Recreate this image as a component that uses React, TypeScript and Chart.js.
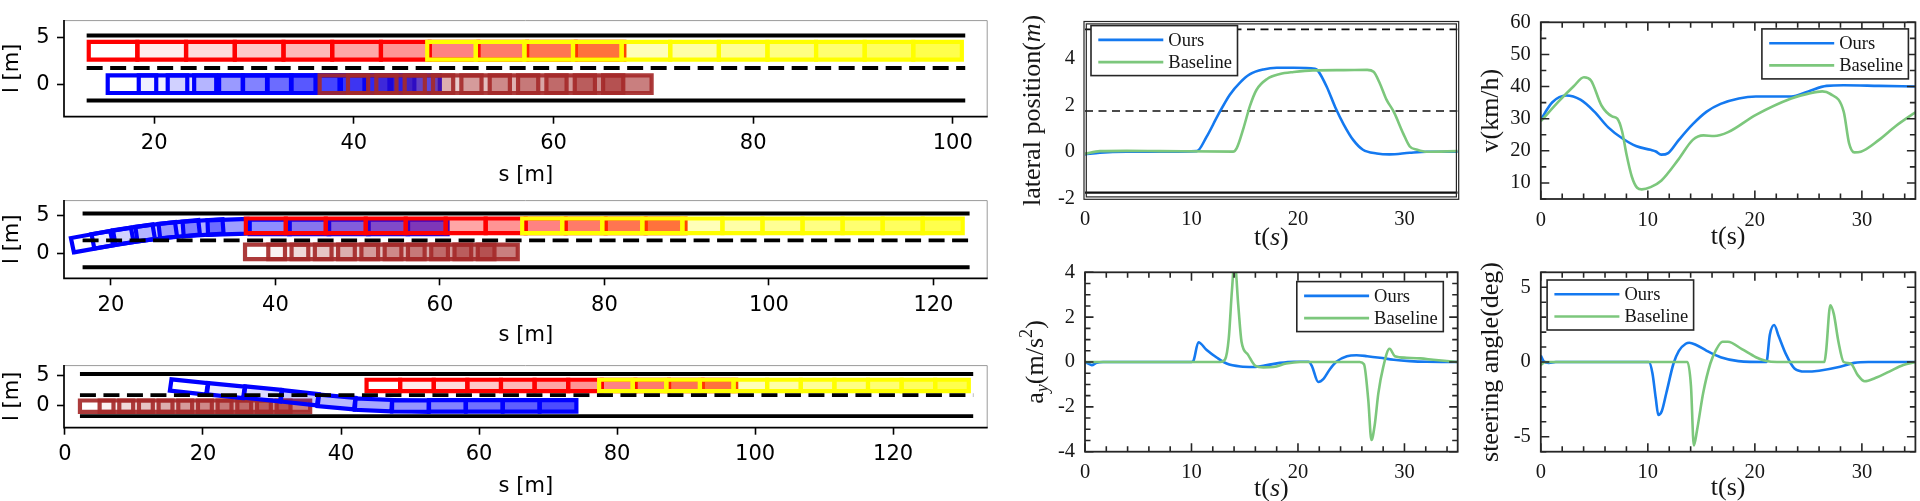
import React, { useEffect, useRef } from "react";
import { Chart, registerables } from "chart.js";
Chart.register(...registerables);

/* ====================== RIGHT: time series ====================== */
const T_LAT_OURS = [0, 1.4, 3.9, 10.5, 11.4, 12.5, 13.6, 14.6, 15.5, 16.75, 18.0, 19.6, 21.6, 21.9, 22.7, 23.5, 24.3, 25.2, 26.1, 27.4, 28.6, 30.5, 32.1, 35];
const LAT_OURS = [-0.11, -0.04, 0, 0.03, 0.63, 1.58, 2.45, 2.99, 3.33, 3.53, 3.6, 3.6, 3.56, 3.46, 2.79, 1.91, 1.17, 0.5, 0.09, -0.07, -0.11, -0.04, 0, 0];
const T_LAT_BASE = [0, 1.4, 3.9, 7.0, 13.9, 14.25, 14.9, 15.5, 16.1, 17.1, 18.3, 19.6, 21.4, 24.3, 26.5, 27.1, 27.7, 28.3, 29.0, 29.9, 30.5, 31.2, 32.1, 35];
const LAT_BASE = [-0.08, 0.03, 0.04, 0.03, 0.01, 0.16, 1.04, 1.98, 2.65, 3.12, 3.33, 3.42, 3.49, 3.5, 3.51, 3.43, 2.92, 2.25, 1.71, 0.77, 0.23, 0.09, 0, 0.03];
const LAT_MARKS = [5.25, 1.75, -1.75];
const LAT_MARK_DASHED = [true, true, false];

const T_V_OURS = [0, 1.08, 2.39, 3.7, 5.0, 6.3, 7.6, 8.95, 10.26, 10.75, 11.25, 11.9, 12.9, 14.2, 15.5, 16.8, 18.5, 20.1, 23.4, 25.0, 26.7, 28.3, 31.6, 35];
const V_OURS = [29.7, 35.1, 37.2, 35.9, 32.2, 27.3, 23.9, 21.4, 20.3, 19.8, 18.8, 19.3, 23.4, 28.3, 32.2, 34.6, 36.3, 36.9, 36.9, 38.5, 40.2, 40.4, 40.2, 40];
const T_V_BASE = [0, 1.74, 3.05, 4.03, 4.69, 5.67, 6.66, 7.15, 7.6, 8.0, 8.5, 9.0, 9.44, 10.26, 11.25, 12.9, 14.2, 15.2, 16.2, 17.5, 20.1, 23.4, 25.0, 26.3, 27.0, 28.3, 28.8, 29.3, 29.9, 31.6, 33.2, 35];
const V_BASE = [29.2, 35.6, 40, 42.9, 41.9, 34.1, 30.7, 30, 26, 19, 12, 8.5, 8, 8.7, 10.7, 17.5, 23.4, 24.8, 24.6, 25.8, 31.2, 36.3, 37.8, 38.5, 37.8, 32.2, 22.4, 19.5, 19.7, 23.4, 27.8, 32];

const T_AY_OURS = [0, 0.31, 0.63, 1.1, 1.7, 10.0, 10.2, 10.65, 11.4, 12.4, 13.3, 14.6, 15.8, 17.1, 18.3, 19.6, 21.0, 21.3, 21.9, 22.4, 23.0, 23.6, 24.6, 25.5, 26.5, 27.7, 29.0, 30.5, 32.1, 35];
const AY_OURS = [0, -0.07, -0.14, -0.03, 0, 0, 0.07, 0.88, 0.55, 0.19, -0.07, -0.2, -0.22, -0.14, -0.04, 0.01, 0.01, -0.17, -0.89, -0.75, -0.32, 0.01, 0.26, 0.3, 0.26, 0.19, 0.1, 0.04, 0.01, 0];
const T_AY_BASE = [0, 12.7, 13.15, 13.5, 13.8, 14.05, 14.4, 14.7, 15.3, 16.0, 16.75, 17.7, 18.9, 20.2, 25.8, 26.2, 26.6, 26.9, 27.2, 27.55, 28.0, 28.6, 29.1, 30.2, 31.5, 32.7, 35];
const AY_BASE = [0, 0, 0.11, 1.05, 3.2, 4.5, 2.49, 0.9, 0.33, -0.17, -0.24, -0.22, -0.07, 0, 0, -0.1, -1.68, -3.48, -2.83, -1.39, -0.24, 0.59, 0.26, 0.19, 0.16, 0.1, 0];

const T_ST_OURS = [0, 0.26, 0.75, 1.4, 10.1, 10.43, 10.75, 10.98, 11.3, 11.74, 12.4, 12.9, 13.54, 13.87, 14.52, 15.5, 16.8, 18.46, 21.08, 21.4, 21.8, 22.23, 22.89, 23.7, 24.7, 26.0, 27.97, 29.28, 30.6, 35];
const ST_OURS = [0.43, 0.06, -0.06, 0, 0, -0.75, -2.47, -3.54, -3.3, -2.04, -0.1, 0.75, 1.22, 1.29, 1.14, 0.75, 0.32, 0.06, 0, 1.82, 2.47, 1.72, 0.54, -0.43, -0.64, -0.58, -0.32, -0.06, 0, 0];
const T_ST_BASE = [0, 0.43, 13.7, 14.03, 14.3, 14.59, 15.18, 15.84, 16.33, 16.98, 17.48, 18.79, 20.1, 21.08, 22.07, 26.5, 26.66, 27.05, 27.38, 27.8, 28.3, 28.95, 29.6, 30.26, 31.25, 32.56, 33.87, 35];
const ST_BASE = [-0.2, 0, 0, -1.6, -5.58, -4.6, -2.04, -0.1, 0.75, 1.35, 1.35, 0.86, 0.32, 0.06, 0, 0, 0.75, 3.8, 3.2, 1.39, 0, -0.1, -0.86, -1.29, -1.07, -0.64, -0.2, 0];

const SERIES_LABELS = ["Ours", "Baseline"];

/* ====================== LEFT: s-l snapshots ====================== */
const LANE_L = [-1.75, 1.75, 5.25];
const LANE_DASHED = [false, true, false];

const P1_S_RANGE = [10.96, 103.5];
const P1_L_RANGE = [-3.5, 6.9];
const P1_LANE_S = [13.23, 101.25];
const P1_BLUE_S = [17.77, 20.88, 23.78, 26.43, 28.93, 31.33, 33.73, 36.13, 38.63, 41.13, 43.63, 46.18];
const P1_BROWN_S = [39.0, 41.84, 44.68, 47.52, 50.36, 53.2, 56.04, 58.88, 61.72, 64.56, 67.4];
const P1_RED_S = [15.87, 20.75, 25.63, 30.51, 35.39, 40.27, 45.15, 50.03, 54.91, 59.79, 64.67];
const P1_YELLOW_S = [49.78, 54.65, 59.52, 64.39, 69.26, 74.13, 79.0, 83.87, 88.74, 93.61, 98.48];

const P2_S_RANGE = [14.29, 126.6];
const P2_L_RANGE = [-3.2, 7.0];
const P2_LANE_S = [16.55, 124.4];
const P2_BLUE_S = [17.7, 20.2, 22.8, 25.5, 28.3, 31.2, 34.2, 39.3, 44.1, 48.9, 53.7, 58.5];
const P2_BLUE_L = [1.58, 2.05, 2.5, 2.88, 3.2, 3.4, 3.5, 3.5, 3.5, 3.5, 3.5, 3.5];
const P2_BLUE_H = [11, 10, 9, 7.5, 6, 4, 2, 0, 0, 0, 0, 0];
const P2_BROWN_S = [38.73, 41.56, 44.39, 47.22, 50.05, 52.88, 55.71, 58.54, 61.37, 64.2, 67.03];
const P2_RED_S = [38.83, 43.69, 48.55, 53.41, 58.27, 63.13, 67.99, 72.85, 77.71, 82.57, 87.43];
const P2_YELLOW_S = [72.43, 77.3, 82.17, 87.04, 91.91, 96.78, 101.65, 106.52, 111.39, 116.26, 121.13];

const P3_S_RANGE = [-0.14, 133.7];
const P3_L_RANGE = [-3.67, 6.73];
const P3_LANE_S = [2.17, 131.6];
const P3_BROWN_S = [4.6, 7.45, 10.3, 13.15, 16.0, 18.85, 21.7, 24.55, 27.4, 30.25, 33.1];
const P3_BLUE_S = [17.95, 23.3, 28.65, 34.0, 39.35, 44.7, 50.05, 55.4, 60.75, 66.1, 71.45];
const P3_BLUE_L = [3.1, 2.5, 1.95, 1.3, 0.6, 0.12, -0.05, -0.05, -0.05, -0.05, -0.05];
const P3_BLUE_H = [-7, -6.5, -6.5, -7, -6, -3, -0.5, 0, 0, 0, 0];
const P3_RED_S = [46.13, 51.0, 55.87, 60.74, 65.61, 70.48, 75.35, 80.22, 85.09, 89.96, 94.83];
const P3_YELLOW_S = [79.83, 84.7, 89.57, 94.44, 99.31, 104.18, 109.05, 113.92, 118.79, 123.66, 128.53];

/* ====================== styling ====================== */
const OURS_C = "#1479f0";
const BASE_C = "#7cc77c";
const TXT = "#161616";
const AX = "#262626";
const FONT_SERIF = '"Liberation Serif", "Times New Roman", serif';
const FONT_SANS = '"DejaVu Sans", "Liberation Sans", sans-serif';
const C_RED = "255,0,0";
const C_YEL = "255,255,0";
const C_BLUE = "0,0,255";
const C_BROWN = "165,42,42";
const VEH_LEN = 4.86;
const VEH_WID = 1.9;
const EDGE_W = 4.2;

/* ====================== helpers ====================== */
const pts = (t: number[], v: number[]) => t.map((x, i) => ({ x, y: v[i] }));

function rectCorners(s: number, l: number, hdeg: number, L: number, W: number) {
  const th = (hdeg * Math.PI) / 180;
  const c = Math.cos(th), sn = Math.sin(th);
  const hx = L / 2, hy = W / 2;
  const base = [[-hx, -hy], [hx, -hy], [hx, hy], [-hx, hy], [-hx, -hy], [hx, -hy]];
  return base.map(([a, b]) => ({ x: s + a * c - b * sn, y: l + a * sn + b * c }));
}

type Veh = { color: string; s: number[]; l: number | number[]; h?: number[]; len: number; faceMax: number; edgeAlpha: number };

function vehicleSets(v: Veh) {
  const n = v.s.length;
  return v.s.map((s, i) => {
    const l = Array.isArray(v.l) ? v.l[i] : v.l;
    const h = v.h ? v.h[i] : 0;
    const a = (v.faceMax * i) / (n - 1);
    return {
      data: rectCorners(s, l, h, v.len, VEH_WID),
      showLine: true,
      fill: "shape",
      backgroundColor: `rgba(${v.color},${a.toFixed(3)})`,
      borderColor: `rgba(${v.color},${v.edgeAlpha})`,
      borderWidth: EDGE_W,
      borderDash: [3000, 0],
      borderJoinStyle: "miter",
      pointRadius: 0,
      pointHoverRadius: 0,
      pointHitRadius: 0,
      tension: 0,
    };
  });
}

const leftFrame = {
  id: "leftFrame",
  afterDatasetsDraw(chart: any) {
    const { ctx, chartArea: a } = chart;
    ctx.save();
    ctx.strokeStyle = "#9a9a9a";
    ctx.lineWidth = 1;
    ctx.beginPath();
    ctx.moveTo(a.left, a.top + 0.5);
    ctx.lineTo(a.right - 0.5, a.top + 0.5);
    ctx.lineTo(a.right - 0.5, a.bottom);
    ctx.stroke();
    ctx.strokeStyle = "#000";
    ctx.lineWidth = 1.7;
    ctx.beginPath();
    ctx.moveTo(a.left, a.top);
    ctx.lineTo(a.left, a.bottom);
    ctx.lineTo(a.right, a.bottom);
    ctx.stroke();
    ctx.restore();
  },
};

type LeftSpec = {
  sRange: number[]; lRange: number[]; laneS: number[]; vehicles: Veh[];
  padTop: number; xAxisH: number; titlePadBottom: number;
};

function makeLeft(canvas: HTMLCanvasElement, p: LeftSpec) {
  const painter: any[] = [];
  p.vehicles.forEach((v) => painter.push(...vehicleSets(v)));
  LANE_L.forEach((l, k) =>
    painter.push({
      data: [{ x: p.laneS[0], y: l }, { x: p.laneS[1], y: l }],
      showLine: true,
      fill: false,
      borderColor: "#000",
      borderWidth: 3.9,
      borderDash: LANE_DASHED[k] ? [16, 7.5] : [],
      pointRadius: 0,
      pointHitRadius: 0,
    })
  );
  const datasets = painter.reverse();
  const font = { family: FONT_SANS, size: 21 };
  return new Chart(canvas, {
    type: "scatter",
    data: { datasets },
    options: {
      animation: false,
      responsive: false,
      events: [],
      layout: { autoPadding: false, padding: { left: 0, top: p.padTop, right: 12.3, bottom: 0 } },
      plugins: { legend: { display: false }, tooltip: { enabled: false } },
      scales: {
        x: {
          type: "linear", min: p.sRange[0], max: p.sRange[1],
          ticks: { stepSize: 20, includeBounds: false, autoSkip: false, maxRotation: 0, padding: 7.5, color: "#000", font },
          grid: { display: true, drawOnChartArea: false, drawTicks: true, tickLength: 7, tickWidth: 1.6, tickColor: "#000" },
          border: { display: false },
          title: { display: true, text: "s [m]", color: "#000", font, padding: { top: 0, bottom: p.titlePadBottom } },
          afterFit: (sc: any) => { sc.height = p.xAxisH; },
        },
        y: {
          type: "linear", min: p.lRange[0], max: p.lRange[1],
          ticks: { stepSize: 5, includeBounds: false, autoSkip: false, padding: 7.5, color: "#000", font },
          grid: { display: true, drawOnChartArea: false, drawTicks: true, tickLength: 7, tickWidth: 1.6, tickColor: "#000" },
          border: { display: false },
          title: { display: true, text: "l [m]", color: "#000", font, padding: { top: 0, bottom: 0 } },
          afterFit: (sc: any) => { sc.width = 64; },
        },
      },
    } as any,
    plugins: [leftFrame],
  } as any);
}

type Seg = { t: string; it?: boolean; sub?: boolean; sup?: boolean };

function drawRich(ctx: CanvasRenderingContext2D, segs: Seg[], cx: number, cy: number, size: number, rot: number) {
  ctx.save();
  ctx.translate(cx, cy);
  ctx.rotate(rot);
  ctx.textBaseline = "alphabetic";
  ctx.textAlign = "left";
  ctx.fillStyle = TXT;
  const fontFor = (s: Seg) => `${s.it ? "italic " : ""}${s.sub || s.sup ? size * 0.7 : size}px ${FONT_SERIF}`;
  let total = 0;
  const widths = segs.map((s) => {
    ctx.font = fontFor(s);
    const w = ctx.measureText(s.t).width;
    total += w;
    return w;
  });
  let x = -total / 2;
  const base = size * 0.27;
  segs.forEach((s, i) => {
    ctx.font = fontFor(s);
    let y = base;
    if (s.sub) y += size * 0.2;
    if (s.sup) y -= size * 0.42;
    ctx.fillText(s.t, x, y);
    x += widths[i];
  });
  ctx.restore();
}

type RightSpec = {
  ours: { x: number; y: number }[]; base: { x: number; y: number }[]; marks?: any[];
  pad: any; yAxisW: number; xAxisH: number;
  yMin: number; yMax: number; yStep: number; yMinor?: number; xMinor?: number;
  doubleFrame?: boolean; legend: { side: string; dx: number; dy: number };
  yTitle: Seg[]; xTitle: Seg[]; yTitleX: number; xTitleY: number;
};

function rightDeco(r: RightSpec) {
  return {
    id: "rightDeco",
    afterDraw(chart: any) {
      const { ctx, chartArea: a, scales } = chart;
      const xs = scales.x, ys = scales.y;
      ctx.save();
      ctx.strokeStyle = AX;
      if (r.doubleFrame) {
        ctx.lineWidth = 1.2;
        ctx.strokeRect(a.left - 1, a.top - 0.8, a.right - a.left + 2, a.bottom - a.top + 1.6);
        ctx.strokeRect(a.left + 1.3, a.top + 1.6, a.right - a.left - 2.6, a.bottom - a.top - 3.2);
      } else {
        ctx.lineWidth = 1.8;
        ctx.strokeRect(a.left, a.top, a.right - a.left, a.bottom - a.top);
      }
      if (r.xMinor && r.yMinor) {
        ctx.lineWidth = 1.6;
        ctx.strokeStyle = AX;
        ctx.beginPath();
        const MAJ = 8.5, MIN = 5.5;
        const isMaj = (v: number, st: number) => Math.abs(v / st - Math.round(v / st)) < 1e-6;
        for (let k = Math.ceil(xs.min / r.xMinor - 1e-9); k * r.xMinor <= xs.max + 1e-9; k++) {
          const v = k * r.xMinor;
          const px = xs.getPixelForValue(v);
          const len = isMaj(v, 10) ? MAJ : MIN;
          ctx.moveTo(px, a.bottom); ctx.lineTo(px, a.bottom - len);
          ctx.moveTo(px, a.top); ctx.lineTo(px, a.top + len);
        }
        for (let k = Math.ceil(ys.min / r.yMinor - 1e-9); k * r.yMinor <= ys.max + 1e-9; k++) {
          const v = k * r.yMinor;
          const py = ys.getPixelForValue(v);
          const len = isMaj(v, r.yStep) ? MAJ : MIN;
          ctx.moveTo(a.left, py); ctx.lineTo(a.left + len, py);
          ctx.moveTo(a.right, py); ctx.lineTo(a.right - len, py);
        }
        ctx.stroke();
      }
      const LW = 146.5, LH = 50;
      const bx = r.legend.side === "left" ? a.left + r.legend.dx : a.right - r.legend.dx - LW;
      const by = a.top + r.legend.dy;
      ctx.fillStyle = "#fff";
      ctx.fillRect(bx, by, LW, LH);
      ctx.strokeStyle = AX;
      ctx.lineWidth = 1.6;
      ctx.strokeRect(bx, by, LW, LH);
      const entries = SERIES_LABELS.map((lab) => chart.data.datasets.find((d: any) => d.label === lab));
      entries.forEach((ds: any, i: number) => {
        const y = by + 14.3 + i * 22.2;
        ctx.strokeStyle = ds.borderColor;
        ctx.lineWidth = 2.6;
        ctx.beginPath();
        ctx.moveTo(bx + 7.3, y);
        ctx.lineTo(bx + 72.3, y);
        ctx.stroke();
        ctx.fillStyle = TXT;
        ctx.font = `18.5px ${FONT_SERIF}`;
        ctx.textBaseline = "middle";
        ctx.textAlign = "left";
        ctx.fillText(ds.label, bx + 77.3, y + 1);
      });
      ctx.restore();
      drawRich(ctx, r.yTitle, r.yTitleX, (a.top + a.bottom) / 2, 26, -Math.PI / 2);
      drawRich(ctx, r.xTitle, (a.left + a.right) / 2, r.xTitleY, 26, 0);
    },
  };
}

function makeRight(canvas: HTMLCanvasElement, r: RightSpec) {
  const tickFont = { family: FONT_SERIF, size: 20.5 };
  const line = (label: string, color: string, data: any, order: number) => ({
    label, data, showLine: true, fill: false, borderColor: color, borderWidth: 2.6,
    pointRadius: 0, pointHitRadius: 0, cubicInterpolationMode: "monotone", order,
  });
  return new Chart(canvas, {
    type: "scatter",
    data: {
      datasets: [
        line("Ours", OURS_C, r.ours, 1),
        line("Baseline", BASE_C, r.base, 0),
        ...(r.marks || []),
      ],
    },
    options: {
      animation: false,
      responsive: false,
      events: [],
      layout: { autoPadding: false, padding: r.pad },
      plugins: { legend: { display: false }, tooltip: { enabled: false } },
      scales: {
        x: {
          type: "linear", min: 0, max: 35,
          ticks: { stepSize: 10, includeBounds: false, autoSkip: false, maxRotation: 0, padding: 9, color: TXT, font: tickFont },
          grid: { display: false, drawTicks: false },
          border: { display: false },
          afterFit: (sc: any) => { sc.height = r.xAxisH; },
        },
        y: {
          type: "linear", min: r.yMin, max: r.yMax,
          ticks: { stepSize: r.yStep, includeBounds: false, autoSkip: false, padding: 10, color: TXT, font: tickFont },
          grid: { display: false, drawTicks: false },
          border: { display: false },
          afterFit: (sc: any) => { sc.width = r.yAxisW; },
        },
      },
    } as any,
    plugins: [rightDeco(r)],
  } as any);
}

/* ====================== specs ====================== */
const veh = (color: string, s: number[], l: number | number[], h?: number[], len = VEH_LEN, faceMax = 0.7, edgeAlpha = 1): Veh =>
  ({ color, s, l, h, len, faceMax, edgeAlpha });

const LEFT_SPECS: LeftSpec[] = [
  {
    sRange: P1_S_RANGE, lRange: P1_L_RANGE, laneS: P1_LANE_S, padTop: 12.7, xAxisH: 83.3, titlePadBottom: 12,
    vehicles: [
      veh(C_BLUE, P1_BLUE_S, 0),
      veh(C_BROWN, P1_BROWN_S, 0, undefined, VEH_LEN, 0.6, 0.92),
      veh(C_RED, P1_RED_S, 3.6),
      veh(C_YEL, P1_YELLOW_S, 3.6),
    ],
  },
  {
    sRange: P2_S_RANGE, lRange: P2_L_RANGE, laneS: P2_LANE_S, padTop: 13.3, xAxisH: 71.7, titlePadBottom: 2,
    vehicles: [
      veh(C_BROWN, P2_BROWN_S, 0.25, undefined, VEH_LEN, 0.6, 0.92),
      veh(C_BLUE, P2_BLUE_S, P2_BLUE_L, P2_BLUE_H),
      veh(C_RED, P2_RED_S, 3.65),
      veh(C_YEL, P2_YELLOW_S, 3.65),
    ],
  },
  {
    sRange: P3_S_RANGE, lRange: P3_L_RANGE, laneS: P3_LANE_S, padTop: 10.7, xAxisH: 73.3, titlePadBottom: 2,
    vehicles: [
      veh(C_BROWN, P3_BROWN_S, -0.1, undefined, VEH_LEN, 0.6, 0.92),
      veh(C_BLUE, P3_BLUE_S, P3_BLUE_L, P3_BLUE_H, 5.3),
      veh(C_RED, P3_RED_S, 3.35),
      veh(C_YEL, P3_YELLOW_S, 3.35),
    ],
  },
];

const latMarks = LAT_MARKS.map((v, k) => ({
  data: [{ x: 0, y: v }, { x: 35, y: v }],
  showLine: true, fill: false, borderColor: "#111",
  borderWidth: LAT_MARK_DASHED[k] ? 1.7 : 2.2,
  borderDash: LAT_MARK_DASHED[k] ? [8, 5.5] : [],
  pointRadius: 0, pointHitRadius: 0, order: 2,
}));

const RIGHT_SPECS: RightSpec[] = [
  {
    ours: pts(T_LAT_OURS, LAT_OURS), base: pts(T_LAT_BASE, LAT_BASE), marks: latMarks,
    pad: { left: 20, top: 11.7, right: 12.3, bottom: 0 }, yAxisW: 65, xAxisH: 51.5,
    yMin: -2, yMax: 5.55, yStep: 2, doubleFrame: true, legend: { side: "left", dx: 6, dy: 3.3 },
    yTitle: [{ t: "lateral position(" }, { t: "m", it: true }, { t: ")" }],
    xTitle: [{ t: "t(" }, { t: "s", it: true }, { t: ")" }], yTitleX: 33, xTitleY: 237.5,
  },
  {
    ours: pts(T_V_OURS, V_OURS), base: pts(T_V_BASE, V_BASE),
    pad: { left: 10, top: 11.7, right: 4.6, bottom: 0 }, yAxisW: 60.8, xAxisH: 51,
    yMin: 5, yMax: 60, yStep: 10, yMinor: 5, xMinor: 2, legend: { side: "right", dx: 7, dy: 6.6 },
    yTitle: [{ t: "v(km/h)" }], xTitle: [{ t: "t(s)" }], yTitleX: 21.4, xTitleY: 236.7,
  },
  {
    ours: pts(T_AY_OURS, AY_OURS), base: pts(T_AY_BASE, AY_BASE),
    pad: { left: 20, top: 16, right: 12.3, bottom: 0 }, yAxisW: 65, xAxisH: 49.3,
    yMin: -4, yMax: 4, yStep: 2, yMinor: 0.5, xMinor: 2, legend: { side: "right", dx: 14.4, dy: 9.3 },
    yTitle: [{ t: "a" }, { t: "y", it: true, sub: true }, { t: "(m/s" }, { t: "2", sup: true }, { t: ")" }],
    xTitle: [{ t: "t(" }, { t: "s", it: true }, { t: ")" }], yTitleX: 35.7, xTitleY: 239,
  },
  {
    ours: pts(T_ST_OURS, ST_OURS), base: pts(T_ST_BASE, ST_BASE),
    pad: { left: 10, top: 15, right: 4.6, bottom: 0 }, yAxisW: 60.8, xAxisH: 49.3,
    yMin: -6, yMax: 6, yStep: 5, yMinor: 1, xMinor: 2, legend: { side: "left", dx: 6.3, dy: 7.7 },
    yTitle: [{ t: "steering angle(deg)" }], xTitle: [{ t: "t(s)" }], yTitleX: 21, xTitleY: 238.3,
  },
];

type Box = { key: string; left: number; top: number; w: number; h: number; make: (c: HTMLCanvasElement) => any };

const BOXES: Box[] = [
  { key: "p1", left: 0, top: 0, w: 1000, h: 200, make: (c) => makeLeft(c, LEFT_SPECS[0]) },
  { key: "p2", left: 0, top: 180, w: 1000, h: 170, make: (c) => makeLeft(c, LEFT_SPECS[1]) },
  { key: "p3", left: 0, top: 345, w: 1000, h: 156, make: (c) => makeLeft(c, LEFT_SPECS[2]) },
  { key: "a", left: 1000, top: 0, w: 470, h: 250, make: (c) => makeRight(c, RIGHT_SPECS[0]) },
  { key: "b", left: 1470, top: 0, w: 450, h: 250, make: (c) => makeRight(c, RIGHT_SPECS[1]) },
  { key: "c", left: 1000, top: 250, w: 470, h: 251, make: (c) => makeRight(c, RIGHT_SPECS[2]) },
  { key: "d", left: 1470, top: 250, w: 450, h: 251, make: (c) => makeRight(c, RIGHT_SPECS[3]) },
];

function ChartBox({ box }: { box: Box }) {
  const ref = useRef<HTMLCanvasElement>(null);
  useEffect(() => {
    const chart = box.make(ref.current as HTMLCanvasElement);
    return () => chart.destroy();
  }, [box]);
  return (
    <canvas
      ref={ref}
      width={box.w}
      height={box.h}
      style={{ position: "absolute", left: box.left, top: box.top, width: box.w, height: box.h }}
    />
  );
}

export default function App() {
  return (
    <div style={{ position: "fixed", left: 0, top: 0, width: 1920, height: 501, background: "#fff", overflow: "hidden" }}>
      {BOXES.map((b) => (
        <ChartBox key={b.key} box={b} />
      ))}
    </div>
  );
}
